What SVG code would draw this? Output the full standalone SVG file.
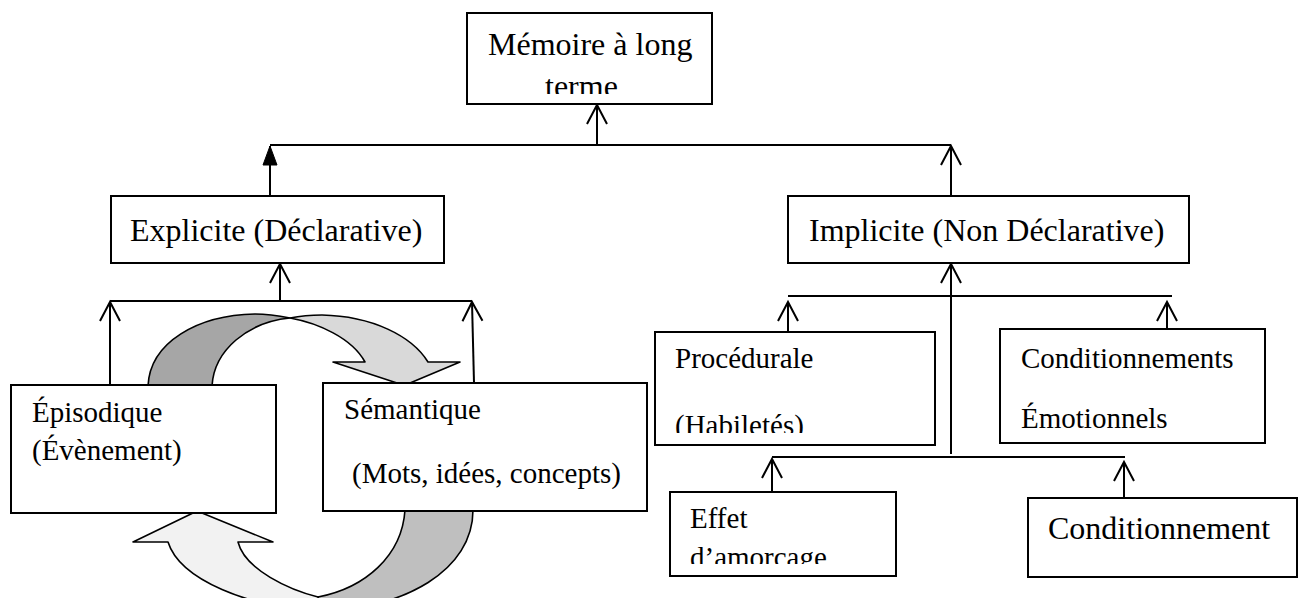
<svg xmlns="http://www.w3.org/2000/svg" width="1303" height="598" viewBox="0 0 1303 598">
  <style>
    .box { fill: #ffffff; stroke: #000000; stroke-width: 2; }
    .lbl { font-family: "Liberation Serif", "Times New Roman", serif; fill: #000000; }
    .big { font-size: 32px; }
    .small { font-size: 29px; }
    .wire { fill: none; stroke: #000000; stroke-width: 2; }
    .arr { marker-end: url(#open); }
    .band { stroke: #000000; stroke-width: 1.6; stroke-linejoin: round; }
  </style>
  <defs>
    <marker id="open" markerUnits="userSpaceOnUse" viewBox="-22 -12 24 24" markerWidth="24" markerHeight="24" refX="0" refY="0" orient="auto" overflow="visible">
      <path d="M -19,-10 L 0,0 L -19,10" fill="none" stroke="#000000" stroke-width="2"/>
    </marker>
    <marker id="solid" markerUnits="userSpaceOnUse" viewBox="-22 -12 24 24" markerWidth="24" markerHeight="24" refX="0" refY="0" orient="auto" overflow="visible">
      <path d="M -19,-7 L 0,0 L -19,7 Z" fill="#000000" stroke="#000000" stroke-width="1"/>
    </marker>
    <clipPath id="clipTop"><rect x="467" y="13" width="245" height="81"/></clipPath>
    <clipPath id="clipProc"><rect x="655" y="332" width="280" height="101"/></clipPath>
    <clipPath id="clipEffet"><rect x="670" y="492" width="226" height="72"/></clipPath>
  </defs>

  <!-- cycle between episodic and semantic memory -->
  <g id="cycle">
    <!-- upper curved arrow: back face then front face -->
    <path class="band" fill="#a6a6a6" d="M148,386 C150,342 198,315 255,314 C268,314 280,316 290,318 C248,322 214,350 212,386 Z"/>
    <path class="band" fill="#d9d9d9" d="M290,318 C300,316 310,315 322,315 C372,316 412,336 428,362 L460,362 L410,383 L397,383 L333,362 L365,362 C352,338 318,323 290,318 Z"/>
    <!-- lower curved arrow: back face then front face -->
    <path class="band" fill="#bfbfbf" d="M405,510 C402,556 365,588 318,597 L318,610 C405,610 473,570 473,510 Z"/>
    <path class="band" fill="#f2f2f2" d="M318,597 C290,590 245,570 238,542 L273,542 L202,513 L193,513 L133,542 L168,542 C180,580 250,608 318,610 Z"/>
  </g>

  <g id="connectors">
    <!-- level 1 -->
    <line class="wire arr" x1="597" y1="145" x2="597" y2="105"/>
    <line class="wire" x1="270" y1="145" x2="951" y2="145"/>
    <line class="wire" x1="270" y1="196" x2="270" y2="146" marker-end="url(#solid)"/>
    <line class="wire arr" x1="951" y1="196" x2="951" y2="146"/>
    <!-- explicit branch -->
    <line class="wire arr" x1="280" y1="301" x2="280" y2="264"/>
    <line class="wire" x1="110" y1="301" x2="472" y2="301"/>
    <line class="wire arr" x1="110" y1="385" x2="110" y2="302"/>
    <line class="wire arr" x1="474" y1="383" x2="472" y2="302"/>
    <!-- implicit branch -->
    <line class="wire arr" x1="951" y1="454" x2="951" y2="264"/>
    <line class="wire" x1="788" y1="296" x2="1172" y2="296"/>
    <line class="wire arr" x1="788" y1="332" x2="788" y2="302"/>
    <line class="wire arr" x1="1167" y1="329" x2="1167" y2="302"/>
    <line class="wire" x1="772" y1="457" x2="1125" y2="457"/>
    <line class="wire arr" x1="772" y1="492" x2="772" y2="459"/>
    <line class="wire arr" x1="1124" y1="498" x2="1124" y2="462"/>
  </g>

  <g id="node-memoire">
    <rect class="box" x="467" y="13" width="245" height="91"/>
    <g clip-path="url(#clipTop)">
      <text class="lbl big" x="488" y="55">Mémoire à long</text>
      <text class="lbl big" x="545" y="97">terme</text>
    </g>
  </g>

  <g id="node-explicite">
    <rect class="box" x="111" y="196" width="333" height="67"/>
    <text class="lbl big" x="130" y="241">Explicite (Déclarative)</text>
  </g>

  <g id="node-implicite">
    <rect class="box" x="788" y="196" width="401" height="67"/>
    <text class="lbl big" x="809" y="241">Implicite (Non Déclarative)</text>
  </g>

  <g id="node-episodique">
    <rect class="box" x="11" y="385" width="265" height="128"/>
    <text class="lbl small" x="32" y="422">Épisodique</text>
    <text class="lbl small" x="32" y="460">(Évènement)</text>
  </g>

  <g id="node-semantique">
    <rect class="box" x="323" y="383" width="324" height="128"/>
    <text class="lbl small" x="344" y="419">Sémantique</text>
    <text class="lbl small" x="352" y="483">(Mots, idées, concepts)</text>
  </g>

  <g id="node-procedurale">
    <rect class="box" x="655" y="332" width="280" height="113"/>
    <text class="lbl small" x="675" y="368">Procédurale</text>
    <text class="lbl small" clip-path="url(#clipProc)" x="675" y="435">(Habiletés)</text>
  </g>

  <g id="node-emotionnels">
    <rect class="box" x="1000" y="329" width="265" height="114"/>
    <text class="lbl small" x="1021" y="368">Conditionnements</text>
    <text class="lbl small" x="1021" y="428">Émotionnels</text>
  </g>

  <g id="node-effet">
    <rect class="box" x="670" y="492" width="226" height="84"/>
    <text class="lbl small" x="690" y="528">Effet</text>
    <text class="lbl small" clip-path="url(#clipEffet)" x="690" y="567">d’amorcage</text>
  </g>

  <g id="node-conditionnement">
    <rect class="box" x="1028" y="498" width="269" height="79"/>
    <text class="lbl big" x="1048" y="539">Conditionnement</text>
  </g>
</svg>
